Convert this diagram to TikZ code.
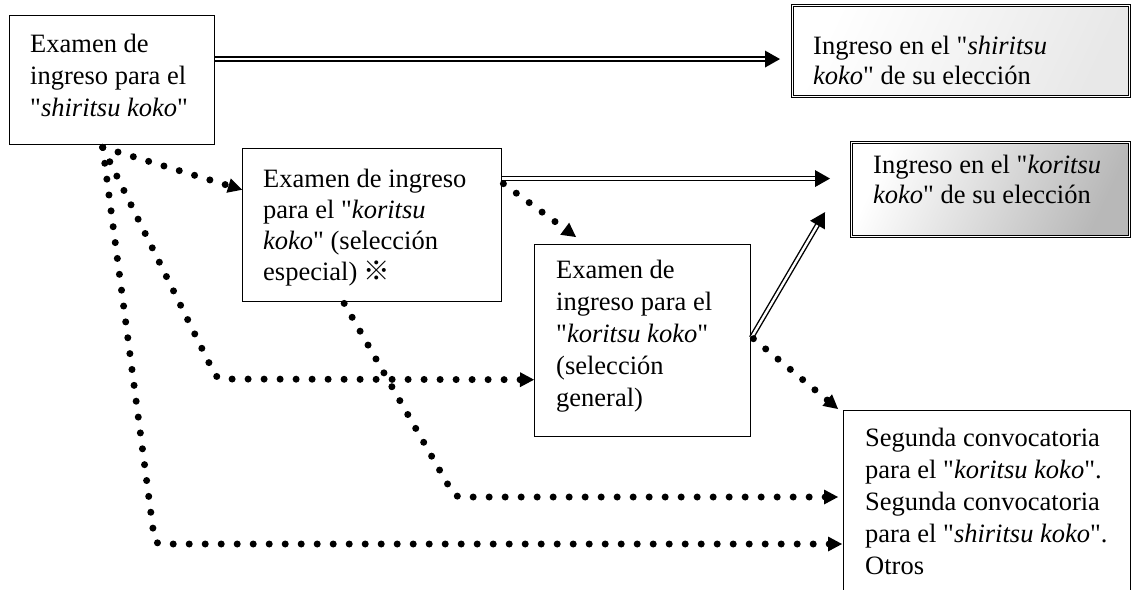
\documentclass[tikz,border=0pt]{standalone}
\usepackage{fontspec}
\setmainfont{Liberation Serif}[Ligatures=TeXOff]
\newfontfamily\cjkfont{Noto Sans CJK JP}
\usetikzlibrary{calc}
\newcommand{\ahd}[4]{%
  \path ($(#2)!#3!(#1)$) coordinate (ahb);
  \fill (#2) -- ($(ahb)!#4!90:(#2)$) -- ($(ahb)!#4!-90:(#2)$) -- cycle;}
\begin{document}
\begin{tikzpicture}[x=1pt,y=-1pt,
  boxb/.style={draw, line width=1.4pt, anchor=north west, inner sep=0pt},
  dboxb/.style={draw, line width=1.1pt, double, double distance=1.6pt, anchor=north west, inner sep=0pt},
  txt/.style={anchor=north west, inner sep=0pt, align=left},
  fA/.style={font=\fontsize{26.5pt}{32pt}\selectfont},
  fB/.style={font=\fontsize{26.5pt}{31pt}\selectfont},
  fD/.style={font=\fontsize{26.5pt}{30pt}\selectfont},
  dbl/.style={draw, line width=1.4pt, double, double distance=2.4pt, shorten >=13pt},
  dots/.style={draw, line width=7pt, line cap=round, dash pattern=on 0pt off 16pt, shorten >=12pt},
]
\path[fill=white] (0,0) rectangle (1132,589);
\useasboundingbox (0,0) rectangle (1132,589);

% boxes
\node[boxb, minimum width=205pt, minimum height=129pt] (A) at (9,15) {};
\node[boxb, minimum width=259pt, minimum height=153pt] (B) at (242,148) {};
\node[boxb, minimum width=216pt, minimum height=192pt] (C) at (534,244) {};
\node[dboxb, left color=white, right color=black!9, shading angle=65,
      minimum width=337pt, minimum height=91pt] (D) at (792,5) {};
\node[dboxb, left color=white, right color=black!28, shading angle=65,
      minimum width=278pt, minimum height=94pt] (E) at (851,142) {};
\node[boxb, minimum width=287pt, minimum height=200pt] (F) at (843,410) {};

% texts
\node[txt, fA] (tA) at (30,34) {Examen de\\ingreso para el\\"\textit{shiritsu koko}"};
\node[txt, fB] (tB) at (263,169) {Examen de ingreso\\para el "\textit{koritsu}\\\textit{koko}" (selección\\especial) {\cjkfont ※}};
\node[txt, fA] (tC) at (556,260) {Examen de\\ingreso para el\\"\textit{koritsu koko}"\\(selección\\general)};
\node[txt, fD] (tD) at (813,36) {Ingreso en el "\textit{shiritsu}\\\textit{koko}" de su elección};
\node[txt, fD] (tE) at (873,155) {Ingreso en el "\textit{koritsu}\\\textit{koko}" de su elección};
\node[txt, fA] (tF) at (865,428) {Segunda convocatoria\\para el "\textit{koritsu koko}".\\Segunda convocatoria\\para el "\textit{shiritsu koko}".\\Otros};

% connector points
\coordinate (s0) at ([xshift=-9.5pt,yshift=-2pt]A.south);
\coordinate (t1) at ([yshift=35.5pt]B.west);
\coordinate (c2) at (217,379);
\coordinate (t2) at ([yshift=-39pt]C.west);
\coordinate (c3) at (155,544);
\coordinate (t3) at ([xshift=-1pt,yshift=-134pt]F.north west);
\coordinate (s4) at ([xshift=-28pt,yshift=-1pt]B.south);
\coordinate (c4) at (455,497);
\coordinate (t4) at ([xshift=-5pt,yshift=-87pt]F.north west);
\coordinate (s5) at ([xshift=1pt,yshift=41.5pt]B.east);
\coordinate (t5) at ([xshift=42pt,yshift=7pt]C.north west);
\coordinate (s6) at ([xshift=2pt,yshift=2pt]C.east);
\coordinate (t6) at ([xshift=-5pt,yshift=1pt]F.north west);
\coordinate (t7) at ([xshift=-12pt,yshift=-8pt]D.west);
\coordinate (s7) at (A.east |- t7);
\coordinate (t8) at ([xshift=-21pt,yshift=11pt]E.west);
\coordinate (s8) at (B.east |- t8);
\coordinate (s9) at ([yshift=3pt]C.east);
\coordinate (t9) at ([xshift=-26pt,yshift=25pt]E.south west);

% double connectors
\draw[dbl] (s7) -- (t7); \ahd{s7}{t7}{15pt}{8.5pt}
\draw[dbl] (s8) -- (t8); \ahd{s8}{t8}{15pt}{8.5pt}
\draw[dbl] (s9) -- (t9); \ahd{s9}{t9}{15pt}{8.5pt}

% dotted connectors
\draw[dots] (s0) -- (t1); \ahd{s0}{t1}{14pt}{7.5pt}
\draw[dots, rounded corners=6pt] (s0) -- (c2) -- (t2); \ahd{c2}{t2}{14pt}{7.5pt}
\draw[dots, rounded corners=6pt] (s0) -- (c3) -- (t3); \ahd{c3}{t3}{14pt}{7.5pt}
\draw[dots, rounded corners=6pt] (s4) -- (c4) -- (t4); \ahd{c4}{t4}{14pt}{7.5pt}
\draw[dots] (s5) -- (t5); \ahd{s5}{t5}{14pt}{7.5pt}
\draw[dots] (s6) -- (t6); \ahd{s6}{t6}{14pt}{7.5pt}
\end{tikzpicture}
\end{document}
